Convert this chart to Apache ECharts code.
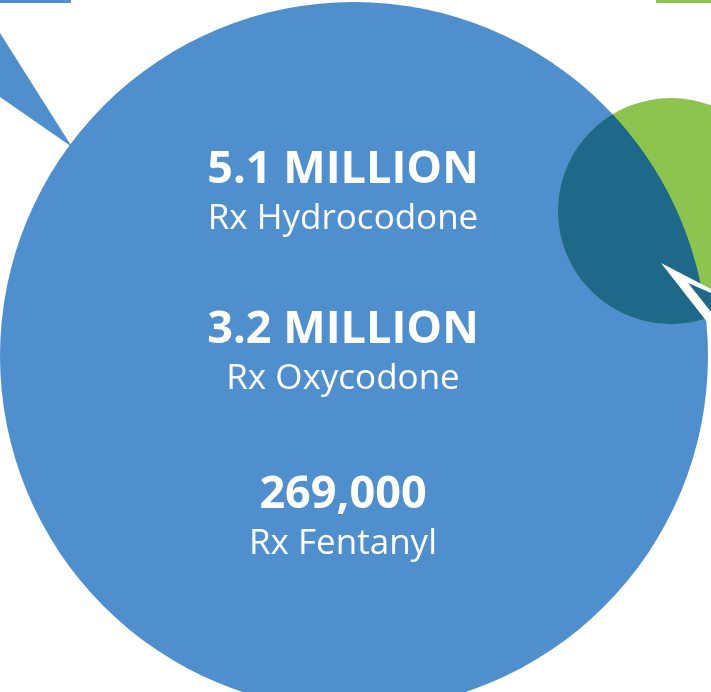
<!DOCTYPE html>
<html><head><meta charset="utf-8">
<script src="https://cdn.jsdelivr.net/npm/echarts@6/dist/echarts.min.js"></script>
<style>html,body{margin:0;padding:0;background:#fff}#c{width:711px;height:692px}</style>
</head><body><div id="c"></div>
<script>
// ---- data ----
const amounts = ['5.1 MILLION', '3.2 MILLION', '269,000'];
const drugs = ['Rx Hydrocodone', 'Rx Oxycodone', 'Rx Fentanyl'];

// ---- layout (axis units, y grows downward) ----
const W = 711, H = 692;
const layout = {
  big: { cx: 354, cy: 356, r: 354 },
  small: { cx: 671, cy: 211, r: 113 },
  textX: 343,
  amountY: [170, 330, 495],
  drugY: [219, 379, 544]
};
const BLUE = '#4F8FCD', GREEN = '#8DC450', DARK = '#1E688A';

function lens(c1, r1, c2, r2) {
  const dx = c2[0] - c1[0], dy = c2[1] - c1[1];
  const d = Math.hypot(dx, dy);
  const a = (r1 * r1 - r2 * r2 + d * d) / (2 * d);
  const h = Math.sqrt(Math.max(0, r1 * r1 - a * a));
  const px = c1[0] + a * dx / d, py = c1[1] + a * dy / d;
  const I1 = [px - h * dy / d, py + h * dx / d];
  const I2 = [px + h * dy / d, py - h * dx / d];
  const TAU = Math.PI * 2;
  const norm = v => ((v % TAU) + TAU) % TAU;
  function arc(c, r, p1, p2, toward) {
    const a1 = Math.atan2(p1[1] - c[1], p1[0] - c[0]);
    const a2 = Math.atan2(p2[1] - c[1], p2[0] - c[0]);
    const at = Math.atan2(toward[1] - c[1], toward[0] - c[0]);
    let delta = norm(a2 - a1);
    if (norm(at - a1) > delta) delta = delta - TAU;
    const pts = [], N = 160;
    for (let i = 0; i <= N; i++) {
      const t = a1 + delta * i / N;
      pts.push([c[0] + r * Math.cos(t), c[1] + r * Math.sin(t)]);
    }
    return pts;
  }
  const s1 = arc(c2, r2, I1, I2, c1); // small circle arc inside big
  const s2 = arc(c1, r1, I2, I1, c2); // big circle arc inside small
  return s1.concat(s2);
}

const chart = echarts.init(document.getElementById('c'));
const option = {
  animation: false,
  grid: { left: 0, right: 0, top: 0, bottom: 0 },
  xAxis: { type: 'value', min: 0, max: W, show: false },
  yAxis: { type: 'value', min: 0, max: H, inverse: true, show: false },
  series: [
    {
      type: 'custom',
      coordinateSystem: 'cartesian2d',
      silent: true,
      data: [[0, 0]],
      renderItem: function (params, api) {
        const P = p => api.coord(p);
        const bc = P([layout.big.cx, layout.big.cy]);
        const br = api.size([layout.big.r, 0])[0];
        const sc = P([layout.small.cx, layout.small.cy]);
        const sr = api.size([layout.small.r, 0])[0];
        const poly = (pts, style) => ({ type: 'polygon', shape: { points: pts.map(P) }, style: style });
        return {
          type: 'group',
          children: [
            poly([[0, 0], [71, 0], [71, 3], [0, 3]], { fill: BLUE }),
            poly([[0, 33], [72, 147], [0, 97]], { fill: BLUE }),
            poly([[656, 0], [720, 0], [720, 3], [656, 3]], { fill: GREEN }),
            { type: 'circle', shape: { cx: bc[0], cy: bc[1], r: br }, style: { fill: BLUE } },
            { type: 'circle', shape: { cx: sc[0], cy: sc[1], r: sr }, style: { fill: GREEN } },
            { type: 'polygon', shape: { points: lens(bc, br, sc, sr) }, style: { fill: DARK } },
            poly([[661, 263], [720, 293.7], [720, 338.6]], { fill: '#ffffff' }),
            poly([[688, 283], [720, 296.8], [720, 323]], { fill: DARK })
          ]
        };
      }
    },
    {
      type: 'custom',
      coordinateSystem: 'cartesian2d',
      silent: true,
      data: amounts.map((a, i) => [layout.textX, layout.amountY[i], layout.drugY[i]]),
      renderItem: function (params, api) {
        const i = params.dataIndex;
        const p1 = api.coord([api.value(0), api.value(1)]);
        const p2 = api.coord([api.value(0), api.value(2)]);
        return {
          type: 'group',
          children: [
            { type: 'text', style: { text: amounts[i], x: p1[0], y: p1[1], fill: '#ffffff',
              font: 'bold 45px "Open Sans"', align: 'center', verticalAlign: 'middle' } },
            { type: 'text', style: { text: drugs[i], x: p2[0], y: p2[1], fill: '#ffffff',
              font: '500 35px "Open Sans"', align: 'center', verticalAlign: 'middle' } }
          ]
        };
      }
    }
  ]
};
chart.setOption(option);
</script>
</body></html>
